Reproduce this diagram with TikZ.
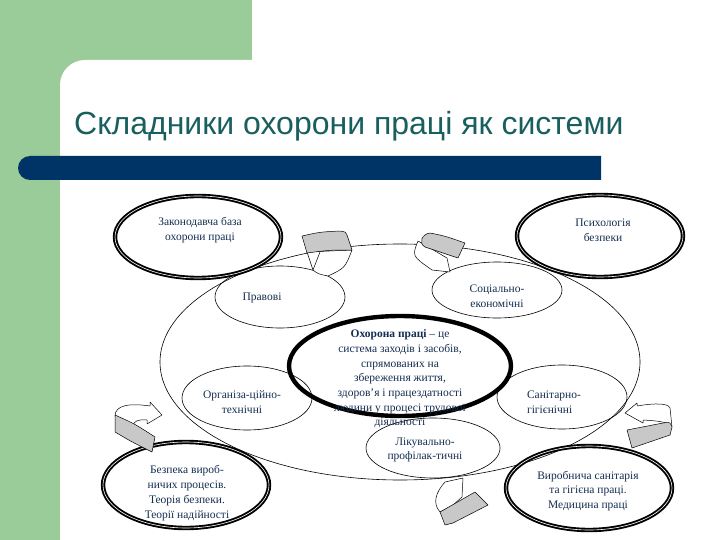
\documentclass[tikz,border=0pt]{standalone}
\usepackage{fontspec}
\setmainfont{Liberation Serif}
\newfontfamily\titlefont{Liberation Sans}
\usetikzlibrary{shapes.geometric}
\definecolor{bggreen}{RGB}{153,204,153}
\definecolor{barblue}{RGB}{0,51,102}
\definecolor{titleteal}{RGB}{25,95,95}
\definecolor{txtblue}{RGB}{20,45,80}
\definecolor{facegray}{RGB}{200,200,200}
\begin{document}
\begin{tikzpicture}[x=1pt,y=-1pt,
 thickell/.style={draw, ellipse, line width=1.9pt, double=white, double distance=0.6pt, inner sep=0pt},
 centerell/.style={draw, ellipse, line width=4.4pt, inner sep=0pt},
 thinell/.style={draw, ellipse, line width=0.6pt, inner sep=0pt},
 lbl/.style={text=txtblue, font=\fontsize{11.5}{14.7}\selectfont, align=center, inner sep=0pt},
 face/.style={fill=facegray, draw=black, line width=0.5pt, line join=round},
 band/.style={fill=white, draw=black, line width=0.5pt, line join=round}]
\useasboundingbox (0,0) rectangle (720,540);
% background
\fill[white] (0,0) rectangle (720,540);
\fill[bggreen] (0,0) rectangle (252,100);
\fill[bggreen] (0,0) rectangle (60,540);
\fill[white, rounded corners=25pt] (60,60) rectangle (760,580);
\fill[white] (252,0) rectangle (720,60);
% bar
\fill[barblue] (601,156) -- (30,156) arc[start angle=90, end angle=270, radius=12pt] -- (601,180) -- cycle;
% title
\node[anchor=base west, text=titleteal, font=\titlefont\fontsize{32}{36}\selectfont, inner sep=0pt] (title) at (74,135) {Складники охорони праці як системи};
% thin ellipses
\node[thinell, minimum width=480pt, minimum height=236pt] (big) at (400,362) {};
\node[thinell, minimum width=130pt, minimum height=62pt] (prav) at (280,297) {};
\node[thinell, minimum width=130pt, minimum height=56pt] (soc) at (497,290) {};
\node[thinell, minimum width=130pt, minimum height=64pt] (org) at (247,398) {};
\node[thinell, minimum width=130pt, minimum height=64pt] (san) at (562,397) {};
\node[thinell, minimum width=134pt, minimum height=60pt] (lik) at (433,448) {};
% thick ellipses
\node[thickell, minimum width=166pt, minimum height=82pt] (zak) at (198,237) {};
\node[thickell, minimum width=166pt, minimum height=82pt] (psy) at (600,236) {};
\node[thickell, minimum width=166pt, minimum height=86pt] (bez) at (186,485) {};
\node[thickell, minimum width=166pt, minimum height=84pt] (vyr) at (589,488) {};
\node[centerell, minimum width=222pt, minimum height=100pt] (core) at (400,366) {};
% curved arrows
% A1
\draw[band] (307,252) -- (313,270) .. controls (318,274) .. (328,276) .. controls (345,268) .. (352,250) -- cycle;
\draw[line width=0.5pt] (320,252) -- (313,270);
\draw[face] (302,236) .. controls (320,232) .. (340,231) .. controls (346,232) .. (347,235) -- (352,250) .. controls (330,250) .. (307,253) -- cycle;
% A2
\draw[band] (418,241) .. controls (412,256) .. (432,270) -- (450,272) -- (447,258) -- cycle;
\draw[face] (425,247) .. controls (418,243) and (422,234) .. (430,233) .. controls (445,236) .. (465,243) -- (458,258) .. controls (440,252) .. (425,247) -- cycle;
% A3
\draw[band] (115,416) .. controls (115,405) and (130,403) .. (150,406) -- (150,402) -- (162,415) -- (147,424) -- (147,420) .. controls (138,419) and (132,422) .. (134,426) -- cycle;
\draw[face] (115,415) .. controls (135,424) .. (155,437) -- (152,452) .. controls (132,442) .. (115,432) -- cycle;
% A4
\draw[band] (625,413) -- (637,403) -- (637,406) .. controls (655,403) and (668,403) .. (670,408) -- (672,427) .. controls (668,422) and (660,421) .. (643,420) -- (643,423) -- cycle;
\draw[face] (627,430) -- (663,423) .. controls (670,422) .. (672,427) -- (670,435) -- (632,448) -- cycle;
% A5
\draw[band] (445,482) -- (463,478) -- (462,497) -- (452,506) -- (440,512) .. controls (432,503) and (436,492) .. (445,482) -- cycle;
\draw[face] (440,512) -- (475,492) -- (488,505) -- (453,523) -- (445,525) -- cycle;
% labels
\node[lbl] (tzak) at (200,230) {Законодавча база\\охорони праці};
\node[lbl] (tpsy) at (603,230) {Психологія\\безпеки};
\node[lbl] (tprav) at (262,298) {Правові};
\node[lbl] (tsoc) at (497,296) {Соціально-\\економічні};
\node[lbl] (tcore) at (400,379) {\textbf{Охорона праці} – це\\система заходів і засобів,\\спрямованих на\\збереження життя,\\здоров’я і працездатності\\людини у процесі трудової\\діяльності};
\node[lbl] (torg) at (242,402) {Організа-ційно-\\технічні};
\node[lbl, align=left] (tsan) at (554,402) {Санітарно-\\гігієнічні};
\node[lbl] (tlik) at (425,450) {Лікувально-\\профілак-тичні};
\node[lbl, font=\fontsize{11.5}{15}\selectfont] (tbez) at (187,493) {Безпека вироб-\\ничих процесів.\\Теорія безпеки.\\Теорії надійності};
\node[lbl] (tvyr) at (588,491) {Виробнича санітарія\\та гігієна праці.\\Медицина праці};
\end{tikzpicture}
\end{document}
